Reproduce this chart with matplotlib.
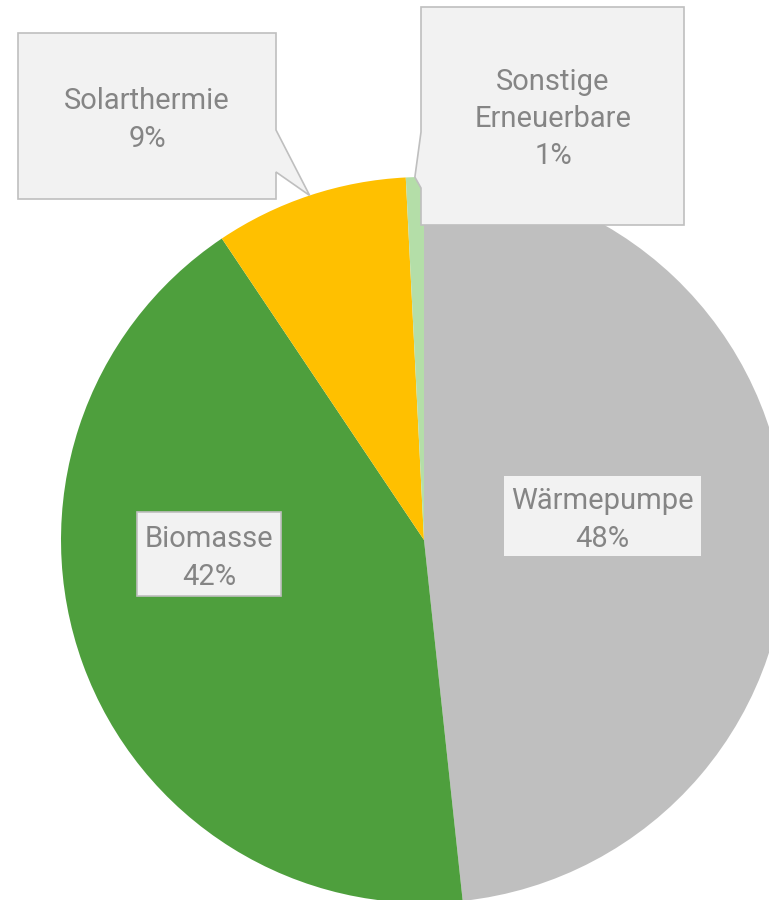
import numpy as np
import matplotlib.pyplot as plt
from matplotlib.patches import Polygon, Rectangle

# Shares of renewable heat sources (percent)
labels = ['Wärmepumpe', 'Biomasse', 'Solarthermie', 'Sonstige\nErneuerbare']
values = [48.3, 42.3, 8.6, 0.8]
colors = ['#BFBFBF', '#4E9F3D', '#FFC000', '#B4DEA8']

W, H = 769, 900
fig = plt.figure(figsize=(W / 100, H / 100), dpi=100)
ax = fig.add_axes([0, 0, 1, 1])

# pie in pixel-like coordinates (y up)
cx, cy, r = 424, 360, 363
wedges, _ = ax.pie(values, colors=colors, startangle=90, counterclock=False,
                   center=(cx, cy), radius=r, wedgeprops=dict(linewidth=0))
ax.set_xlim(0, W)
ax.set_ylim(0, H)
ax.set_aspect('equal')
ax.axis('off')

txt = dict(ha='center', va='center', fontsize=21, color='#858585',
           family=['Roboto', 'DejaVu Sans'], linespacing=1.42)
boxfc, boxec = '#F2F2F2', '#BFBFBF'


def pct(v):
    return '%d%%' % round(v)


def tip(w):
    a = np.deg2rad((w.theta1 + w.theta2) / 2)
    return cx + r * np.cos(a), cy + r * np.sin(a)


# inside labels
ax.add_patch(Rectangle((504, H - 556), 197, 80, fc=boxfc, ec='none', zorder=3))
ax.text(602, H - 520, labels[0] + '\n' + pct(values[0]), zorder=4, **txt)
ax.add_patch(Rectangle((137, H - 596), 144, 84, fc=boxfc, ec=boxec, lw=1.2, zorder=3))
ax.text(209, H - 558, labels[1] + '\n' + pct(values[1]), zorder=4, **txt)

# callout Solarthermie
tx, ty = tip(wedges[2])
x0, x1, y0, y1 = 18, 276, H - 199, H - 33
pts = [(x0, y0), (x0, y1), (x1, y1), (x1, H - 130), (tx, ty), (x1, H - 172), (x1, y0)]
ax.add_patch(Polygon(pts, closed=True, fc=boxfc, ec=boxec, lw=1.2, zorder=3))
ax.text(147, H - 120, labels[2] + '\n' + pct(values[2]), zorder=4, **txt)

# callout Sonstige
tx, ty = tip(wedges[3])
x0, x1, y0, y1 = 421, 684, H - 225, H - 7
pts = [(x0, y0), (x0, H - 188), (tx, ty), (x0, H - 132), (x0, y1), (x1, y1), (x1, y0)]
ax.add_patch(Polygon(pts, closed=True, fc=boxfc, ec=boxec, lw=1.2, zorder=3))
ax.text(553, H - 119, labels[3] + '\n' + pct(values[3]), zorder=4, **txt)

fig.savefig('out.png', dpi=100, facecolor='white')
